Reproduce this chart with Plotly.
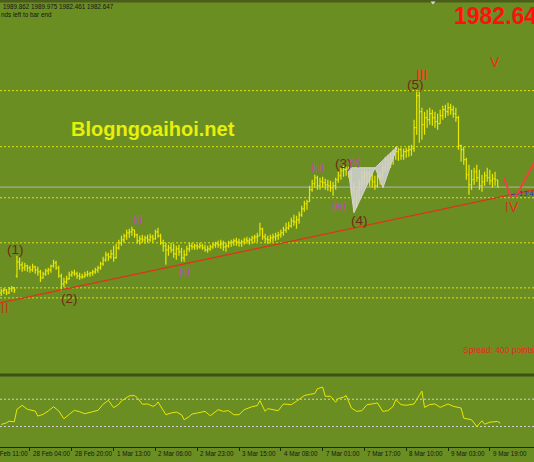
import plotly.graph_objects as go

W, H = 534, 462
FONT = "Liberation Sans, Arial, sans-serif"

# ---------------- data ----------------
opens = [1877, 1879, 1880, 1877, 1881, 1882, 1894, 1908, 1905, 1902,
         1904, 1902, 1900, 1903, 1900, 1898, 1892, 1896, 1899, 1900,
         1904, 1907, 1902, 1894, 1886, 1888, 1891, 1895, 1897, 1896,
         1894, 1893, 1893, 1895, 1896, 1897, 1898, 1900, 1902, 1906,
         1910, 1915, 1913, 1916, 1912, 1922, 1927, 1930, 1934, 1937,
         1938, 1940, 1935, 1929, 1931, 1930, 1932, 1930, 1933, 1931,
         1938, 1934, 1927, 1924, 1920, 1922, 1920, 1916, 1921, 1918,
         1912, 1915, 1921, 1924, 1923, 1924, 1923, 1924, 1922, 1920,
         1921, 1923, 1925, 1926, 1925, 1926, 1923, 1924, 1927, 1928,
         1929, 1928, 1927, 1928, 1930, 1929, 1930, 1932, 1933, 1934,
         1941, 1933, 1931, 1930, 1932, 1933, 1934, 1935, 1937, 1940,
         1942, 1944, 1949, 1948, 1950, 1955, 1961, 1966, 1968, 1980,
         1986, 1992, 1984, 1988, 1987, 1985, 1984, 1982, 1984, 1990,
         1994, 1999, 2000, 2000, 1995, 1980, 1970, 1974, 1986, 1992,
         1994, 1996, 1990, 1988, 1984, 1992, 1994, 2002, 2010, 2006,
         2012, 2015, 2018, 2020, 2014, 2018, 2019, 2020, 2021, 2042,
         2074, 2058, 2045, 2052, 2050, 2056, 2052, 2048, 2046, 2054,
         2060, 2058, 2062, 2060, 2056, 2052, 2024, 2020, 2010, 1995,
         1985, 1990, 1998, 1992, 1984, 1988, 1994, 1992, 1989, 1991,
         1989.862]
highs = [1881, 1882, 1881, 1883, 1884, 1883, 1914, 1912, 1908, 1907,
         1905, 1904, 1906, 1904, 1903, 1900, 1898, 1901, 1902, 1905,
         1910, 1909, 1904, 1896, 1892, 1894, 1898, 1899, 1900, 1898,
         1897, 1896, 1898, 1899, 1898, 1900, 1902, 1904, 1908, 1913,
         1918, 1917, 1920, 1924, 1926, 1930, 1934, 1936, 1940, 1941,
         1943, 1940, 1936, 1934, 1935, 1934, 1935, 1936, 1935, 1940,
         1942, 1936, 1930, 1927, 1925, 1927, 1926, 1924, 1925, 1922,
         1920, 1924, 1927, 1927, 1926, 1926, 1927, 1926, 1925, 1924,
         1925, 1927, 1928, 1929, 1930, 1929, 1927, 1929, 1930, 1931,
         1932, 1931, 1930, 1932, 1933, 1932, 1934, 1935, 1937, 1947,
         1942, 1936, 1934, 1935, 1936, 1937, 1938, 1940, 1943, 1947,
         1948, 1952, 1955, 1954, 1958, 1964, 1969, 1970, 1984, 1990,
         1995, 1994, 1992, 1993, 1991, 1990, 1989, 1988, 1992, 1998,
         2002, 2004, 2004, 2003, 2000, 1988, 1980, 1990, 1998, 2000,
         1999, 1998, 1996, 1994, 1995, 1998, 2006, 2013, 2015, 2017,
         2020, 2023, 2022, 2022, 2021, 2022, 2024, 2025, 2050, 2078,
         2079, 2062, 2058, 2060, 2062, 2060, 2058, 2056, 2060, 2064,
         2065, 2067, 2066, 2064, 2062, 2054, 2025, 2023, 2012, 2005,
         2000, 2002, 2005, 2000, 1995, 1998, 2002, 2000, 1996, 1998,
         1989.975]
lows = [1874, 1876, 1875, 1876, 1878, 1877, 1892, 1900, 1898, 1899,
        1898, 1897, 1898, 1896, 1894, 1888, 1891, 1894, 1895, 1897,
        1902, 1900, 1892, 1879, 1883, 1886, 1890, 1893, 1894, 1891,
        1890, 1891, 1892, 1893, 1893, 1894, 1896, 1897, 1900, 1904,
        1908, 1909, 1911, 1908, 1911, 1920, 1924, 1927, 1930, 1932,
        1934, 1932, 1926, 1925, 1927, 1926, 1927, 1928, 1927, 1930,
        1932, 1925, 1918, 1905, 1914, 1917, 1912, 1910, 1914, 1908,
        1908, 1914, 1918, 1920, 1920, 1920, 1921, 1920, 1918, 1917,
        1919, 1921, 1922, 1922, 1921, 1919, 1918, 1922, 1923, 1924,
        1924, 1923, 1923, 1925, 1926, 1925, 1926, 1927, 1928, 1934,
        1930, 1927, 1926, 1927, 1928, 1929, 1930, 1932, 1934, 1937,
        1940, 1942, 1944, 1941, 1946, 1953, 1958, 1960, 1968, 1978,
        1982, 1980, 1980, 1982, 1980, 1979, 1978, 1974, 1980, 1987,
        1990, 1993, 1994, 1992, 1975, 1958, 1962, 1970, 1980, 1984,
        1985, 1983, 1982, 1980, 1982, 1985, 1990, 1998, 2000, 2002,
        2005, 2010, 2009, 2010, 2010, 2012, 2013, 2014, 2018, 2035,
        2027, 2030, 2035, 2042, 2045, 2044, 2042, 2040, 2046, 2050,
        2052, 2054, 2055, 2052, 2048, 2020, 2008, 2005, 1990, 1975,
        1980, 1985, 1988, 1980, 1978, 1984, 1988, 1985, 1982, 1984,
        1982.461]
closes = [1879, 1880, 1877, 1881, 1882, 1880, 1908, 1905, 1902, 1904,
          1902, 1900, 1903, 1900, 1898, 1892, 1896, 1899, 1900, 1904,
          1907, 1902, 1894, 1886, 1888, 1891, 1895, 1897, 1896, 1894,
          1893, 1893, 1895, 1896, 1897, 1898, 1900, 1902, 1906, 1910,
          1915, 1913, 1916, 1912, 1922, 1927, 1930, 1934, 1937, 1938,
          1940, 1935, 1929, 1931, 1930, 1932, 1930, 1933, 1931, 1938,
          1934, 1927, 1924, 1920, 1922, 1920, 1916, 1921, 1918, 1912,
          1915, 1921, 1924, 1923, 1924, 1923, 1924, 1922, 1920, 1921,
          1923, 1925, 1926, 1925, 1926, 1923, 1924, 1927, 1928, 1929,
          1928, 1927, 1928, 1930, 1929, 1930, 1932, 1933, 1934, 1941,
          1933, 1931, 1930, 1932, 1933, 1934, 1935, 1937, 1940, 1942,
          1944, 1949, 1948, 1950, 1955, 1961, 1966, 1968, 1980, 1986,
          1992, 1984, 1988, 1987, 1985, 1984, 1982, 1984, 1990, 1994,
          1999, 2000, 2000, 1995, 1980, 1970, 1974, 1986, 1992, 1994,
          1996, 1990, 1988, 1984, 1992, 1994, 2002, 2010, 2006, 2012,
          2015, 2018, 2020, 2014, 2018, 2019, 2020, 2021, 2042, 2074,
          2058, 2045, 2052, 2050, 2056, 2052, 2048, 2046, 2054, 2060,
          2058, 2062, 2060, 2056, 2052, 2024, 2020, 2010, 1995, 1985,
          1990, 1998, 1992, 1984, 1988, 1994, 1992, 1989, 1991, 1990,
          1982.647]
bars = list(range(len(closes)))

# RSI-like oscillator (bar index, value)
rsi_x = [0, 2, 3, 5, 6, 8, 10, 12, 13, 14, 16, 18, 20, 22, 24, 26, 28, 30, 32, 35,
         37, 39, 41, 43, 45, 46, 49, 51, 52, 54, 56, 58, 59, 60, 62, 63, 65, 67, 69, 70,
         72, 73, 75, 78, 80, 83, 85, 87, 89, 91, 93, 96, 98, 99, 101, 102, 104, 106, 108, 111,
         113, 116, 118, 120, 121, 123, 124, 126, 128, 129, 131, 132, 134, 136, 138, 140, 142, 144, 146, 148,
         150, 151, 153, 155, 158, 160, 161, 162, 164, 166, 168, 171, 173, 176, 177, 180, 182, 184, 185, 187,
         190, 191]
rsi_v = [33.0, 35.4, 37.9, 36.9, 55.2, 61.1, 55.2, 53.7, 52.7, 45.3, 47.8, 52.7, 59.1, 52.7, 41.4, 47.8, 53.7, 51.7, 48.8, 51.7,
         53.7, 62.6, 68.4, 57.6, 62.6, 67.5, 74.9, 75.4, 72.5, 62.6, 63.1, 59.6, 61.1, 66.0, 54.7, 47.3, 49.8, 51.2, 47.3, 39.9,
         44.8, 48.3, 49.8, 52.2, 45.8, 54.7, 52.2, 53.2, 47.3, 47.3, 54.7, 59.1, 60.6, 68.0, 52.2, 56.2, 54.7, 53.2, 63.1, 62.1,
         67.0, 75.4, 77.0, 78.4, 85.3, 87.8, 74.4, 74.4, 65.6, 71.0, 73.0, 75.4, 57.1, 52.2, 53.2, 62.1, 63.1, 64.6, 52.2, 53.2,
         59.6, 69.5, 62.1, 61.1, 63.1, 77.0, 81.9, 58.1, 62.1, 63.1, 58.1, 63.1, 59.6, 57.1, 42.3, 39.9, 30.0, 38.4, 33.4, 36.4,
         37.4, 34.9]
rsi_levels = [70, 30]

# horizontal levels on the price pane
level_prices = [2079, 2023, 1972, 1927, 1882, 1872]
bid_price = 1982.647

# trend line anchors (bar index, price)
trend_x = [23.25, 194.0]
trend_y = [1880.1, 1974.5]

# Elliott projection lines
proj1_x, proj1_y = [192.4, 195.1], [1992, 1972]
proj2_x, proj2_y = [196.7, 208.1], [1972, 2027]

# harmonic pattern points X, A, B, C, D
harm_x = [132.7, 135.0, 143.1, 146.1, 151.5]
harm_y = [2002, 1957, 2002, 1982, 2023]

# wave labels: (text, bar index, price, kind)
wave_labels = [
    ("(1)", 5.6, 1920, "minor"), ("(2)", 26.3, 1871, "minor"),
    ("(3)", 130.8, 2006, "minor"), ("(4)", 137.3, 1949, "minor"),
    ("(5)", 158.4, 2085, "minor"),
    ("II", 1.3, 1861.5, "major"), ("III", 161.0, 2095, "major"),
    ("IV", 195.5, 1963, "major"), ("V", 189.0, 2108, "major"),
    ("(i)", 52.0, 1950, "sub"), ("(ii)", 70.3, 1898, "sub"),
    ("(iii)", 121.2, 2002, "sub"), ("(iv)", 129.3, 1964, "sub"),
    ("(v)", 135.4, 2007, "sub"),
]

tick_idx = [-5, 11, 27, 43, 59, 75, 91, 107, 123, 139, 155, 171, 187]
tick_text = ["27 Feb 11:00", "28 Feb 04:00", "28 Feb 20:00", "1 Mar 13:00",
             "2 Mar 06:00", "2 Mar 23:00", "3 Mar 15:00", "4 Mar 08:00",
             "7 Mar 01:00", "7 Mar 17:00", "8 Mar 10:00", "9 Mar 03:00",
             "9 Mar 19:00"]

# ---------------- layout constants ----------------
X0, X1 = -0.48, 203.9
P_LO, P_HI = 1796.0, 2167.0
BG = "#6b8e23"
BAR = "#e8e800"


def pyp(yp):
    return 1 - yp / H


def pxp(xp):
    return xp / W


def xpaper(i):
    return (i - X0) / (X1 - X0)


fig = go.Figure()

# harmonic triangles (drawn under bars)
tri1 = [0, 1, 2, 0]
tri2 = [2, 3, 4, 2]
for tri in (tri1, tri2):
    fig.add_trace(go.Scatter(
        x=[harm_x[k] for k in tri], y=[harm_y[k] for k in tri],
        mode="lines", fill="toself", fillcolor="rgba(208,208,208,0.88)",
        line=dict(color="#d4d4d4", width=1), hoverinfo="skip",
        xaxis="x", yaxis="y"))

fig.add_trace(go.Ohlc(
    x=bars, open=opens, high=highs, low=lows, close=closes,
    increasing=dict(line=dict(color=BAR, width=1.2)),
    decreasing=dict(line=dict(color=BAR, width=1.2)),
    tickwidth=0.45, hoverinfo="skip", xaxis="x", yaxis="y"))

fig.add_trace(go.Scatter(
    x=rsi_x, y=rsi_v, mode="lines", line=dict(color=BAR, width=1),
    hoverinfo="skip", xaxis="x", yaxis="y2"))

shapes = []
# top dark strip
shapes.append(dict(type="rect", xref="paper", yref="paper", x0=0, x1=1,
                   y0=pyp(2.5), y1=1, fillcolor="#4a5d1b", line=dict(width=0)))
# separator between panes
shapes.append(dict(type="rect", xref="paper", yref="paper", x0=0, x1=1,
                   y0=pyp(376.5), y1=pyp(373.5), fillcolor="#3e5013",
                   line=dict(width=0)))
for lv in level_prices:
    shapes.append(dict(type="line", xref="paper", yref="y", x0=0, x1=1,
                       y0=lv, y1=lv, layer="below",
                       line=dict(color="#e0e010", width=1, dash="2px,2px")))
shapes.append(dict(type="line", xref="paper", yref="y", x0=0, x1=1,
                   y0=bid_price, y1=bid_price, layer="below",
                   line=dict(color="#b4b4b4", width=1)))
for lv in rsi_levels:
    shapes.append(dict(type="line", xref="paper", yref="y2", x0=0, x1=1,
                       y0=lv, y1=lv, layer="below",
                       line=dict(color="#cfcfcf", width=1, dash="2px,2px")))
# trend line extended over the whole pane
slope = (trend_y[1] - trend_y[0]) / (trend_x[1] - trend_x[0])
tx0, tx1 = X0 - 1, X1 + 1
shapes.append(dict(type="line", xref="x", yref="y",
                   x0=tx0, y0=trend_y[0] + slope * (tx0 - trend_x[0]),
                   x1=tx1, y1=trend_y[0] + slope * (tx1 - trend_x[0]),
                   line=dict(color="#e0321a", width=1.3)))
for xs, ys in ((proj1_x, proj1_y), (proj2_x, proj2_y)):
    shapes.append(dict(type="line", xref="x", yref="y",
                       x0=xs[0], y0=ys[0], x1=xs[1], y1=ys[1],
                       line=dict(color="#f04040", width=2)))
# chart shift marker at top
shapes.append(dict(type="path", xref="paper", yref="paper",
                   path=f"M {pxp(430.5)} {pyp(1.5)} L {pxp(435.5)} {pyp(1.5)} L {pxp(433)} {pyp(4.5)} Z",
                   fillcolor="#d8d8d8", line=dict(width=0)))

ann = []
styles = {
    "minor": dict(size=13.5, color="#6e2a10"),
    "major": dict(size=14, color="#f02a1a"),
    "sub": dict(size=10, color="#d040d0"),
}
for txt, xi, pv, kind in wave_labels:
    ann.append(dict(x=xi, y=pv, xref="x", yref="y", text=txt, showarrow=False,
                    font=dict(family=FONT, **styles[kind])))

for i, t in zip(tick_idx, tick_text):
    ann.append(dict(x=xpaper(i) + 1.0 / W, y=pyp(453), xref="paper", yref="paper",
                    text=t, showarrow=False, xanchor="left", yanchor="middle",
                    font=dict(family=FONT, size=6.3, color="#161616")))

ann.append(dict(x=pxp(1), y=pyp(7), xref="paper", yref="paper",
                text="1989.862 1989.975 1982.461 1982.647", showarrow=False,
                xanchor="left", yanchor="middle",
                font=dict(family=FONT, size=6.3, color="#141414")))
ann.append(dict(x=pxp(-1), y=pyp(15), xref="paper", yref="paper",
                text="nds left to bar end", showarrow=False,
                xanchor="left", yanchor="middle",
                font=dict(family=FONT, size=6.3, color="#141414")))
ann.append(dict(x=pxp(452), y=pyp(16.5), xref="paper", yref="paper",
                text="<b>1982.647</b>", showarrow=False,
                xanchor="left", yanchor="middle",
                font=dict(family=FONT, size=23, color="#ff1010")))
ann.append(dict(x=pxp(152.5), y=pyp(129), xref="paper", yref="paper",
                text="<b>Blogngoaihoi.net</b>", showarrow=False,
                xanchor="center", yanchor="middle",
                font=dict(family=FONT, size=20, color="#e6f00c")))
ann.append(dict(x=pxp(461), y=pyp(350), xref="paper", yref="paper",
                text="Spread: 400 points", showarrow=False,
                xanchor="left", yanchor="middle",
                font=dict(family=FONT, size=8.5, color="#e8281a")))
ann.append(dict(x=pxp(507), y=pyp(193), xref="paper", yref="paper",
                text="\u2190-13:45", showarrow=False,
                xanchor="left", yanchor="middle",
                font=dict(family=FONT, size=7.5, color="#2a30d8")))

fig.update_layout(
    width=W, height=H, margin=dict(l=0, r=0, t=0, b=0, autoexpand=False),
    paper_bgcolor=BG, plot_bgcolor=BG, showlegend=False,
    shapes=shapes, annotations=ann,
    xaxis=dict(range=[X0, X1], domain=[0, 1], anchor="y2",
               showgrid=False, zeroline=False, showline=True,
               linecolor="#1c2a08", linewidth=1, ticks="outside",
               ticklen=3, tickcolor="#1c2a08", tickvals=tick_idx,
               showticklabels=False, rangeslider=dict(visible=False),
               fixedrange=True),
    yaxis=dict(domain=[pyp(374), pyp(2.5)], range=[P_LO, P_HI],
               visible=False, fixedrange=True),
    yaxis2=dict(domain=[pyp(447), pyp(376.5)], range=[0, 103.3],
                visible=False, fixedrange=True),
)

fig.write_html("out.html", config={"displayModeBar": False},
               post_script="document.body.style.margin='0';document.body.style.overflow='hidden';")
